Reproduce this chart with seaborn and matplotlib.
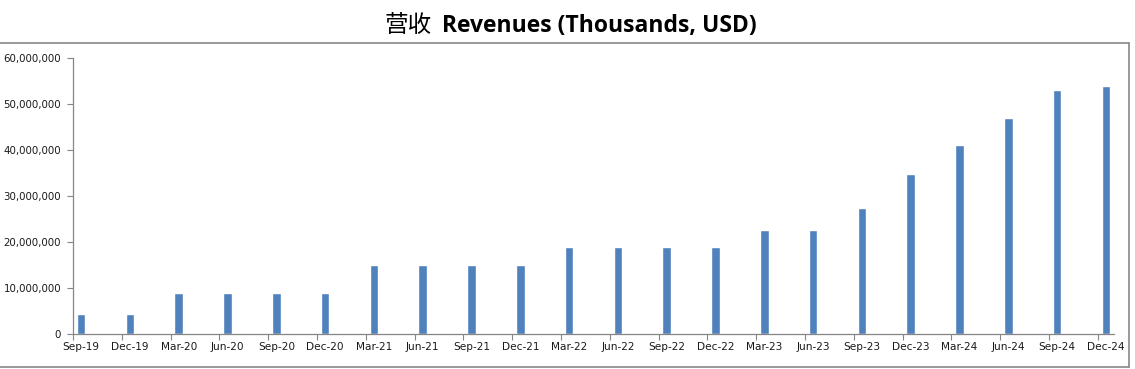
import matplotlib
matplotlib.use("Agg")
import matplotlib.pyplot as plt
import matplotlib.ticker as mticker
from matplotlib.lines import Line2D
import numpy as np
import pandas as pd
import seaborn as sns

periods = ["Sep-19", "Dec-19", "Mar-20", "Jun-20", "Sep-20", "Dec-20",
           "Mar-21", "Jun-21", "Sep-21", "Dec-21", "Mar-22", "Jun-22",
           "Sep-22", "Dec-22", "Mar-23", "Jun-23", "Sep-23", "Dec-23",
           "Mar-24", "Jun-24", "Sep-24", "Dec-24"]
revenues = [4300000, 4300000, 9000000, 9000000, 9000000, 9000000,
            14900000, 14900000, 14900000, 14900000, 19000000, 19000000,
            19000000, 19000000, 22700000, 22700000, 27300000, 34800000,
            41100000, 47000000, 53000000, 53900000]
y_ticks = [0, 10000000, 20000000, 30000000, 40000000, 50000000, 60000000]
title_cn = "营收"
title_en = "Revenues (Thousands, USD)"

# each period occupies a 3-month span on a month-based date axis
month_pos = [3 * i + 0.5 for i in range(len(periods))]
df = pd.DataFrame({"period": periods, "pos": month_pos, "revenue": revenues})

sns.set_theme(style="white")
plt.rcParams["font.family"] = ["DejaVu Sans", "Noto Sans CJK SC"]

W, H = 1135, 369
fig = plt.figure(figsize=(W / 100, H / 100), dpi=100)
ax = fig.add_axes([73 / W, (H - 334) / H, (1114 - 73) / W, (334 - 58) / H])

sns.barplot(data=df, x="pos", y="revenue", native_scale=True, width=0.175,
            color="#4F81BD", saturation=1, errorbar=None, ax=ax)

n_slots = 3 * len(periods) - 2
ax.set_xlim(0, n_slots)
ax.set_ylim(0, 60000000)
ax.set_yticks(y_ticks)
ax.yaxis.set_major_formatter(mticker.FuncFormatter(lambda v, p: f"{int(v):,}"))

ax.set_xticks([3 * i for i in range(len(periods))])
ax.set_xticklabels([])
ax.set_xticks(month_pos, minor=True)
ax.set_xticklabels(periods, minor=True)
ax.tick_params(axis="x", which="major", length=4.5, width=0.8, color="#868686", direction="out")
ax.tick_params(axis="x", which="minor", length=0, pad=6, labelsize=7.6, labelcolor="#1a1a1a")
ax.tick_params(axis="y", length=4.5, width=0.8, color="#868686", direction="out",
               pad=4, labelsize=7.4, labelcolor="#1a1a1a")
ax.xaxis.set_ticks_position("bottom")
ax.yaxis.set_ticks_position("left")

for s in ["top", "right"]:
    ax.spines[s].set_visible(False)
for s in ["left", "bottom"]:
    ax.spines[s].set_color("#868686")
    ax.spines[s].set_linewidth(0.9)
ax.set_xlabel("")
ax.set_ylabel("")
ax.grid(False)

# outer chart frame
fc = "#888888"
fig.add_artist(Line2D([0, 1129 / W], [1 - 43 / H, 1 - 43 / H], transform=fig.transFigure, color=fc, lw=1.2))
fig.add_artist(Line2D([1129 / W, 1129 / W], [1 - 43 / H, 1 - 367 / H], transform=fig.transFigure, color=fc, lw=1.2))
fig.add_artist(Line2D([0, 1129 / W], [1 - 367 / H, 1 - 367 / H], transform=fig.transFigure, color=fc, lw=1.2))

# title: CJK part regular, English part bold
fig.text(432 / W, 1 - 26 / H, title_cn, ha="right", va="center", fontsize=17,
         family=["Noto Sans CJK SC"], color="black")
fig.text(442 / W, 1 - 26 / H, title_en, ha="left", va="center", fontsize=16.5,
         fontweight="bold", family=["Open Sans"], color="black")

fig.savefig("out.png", dpi=100)
